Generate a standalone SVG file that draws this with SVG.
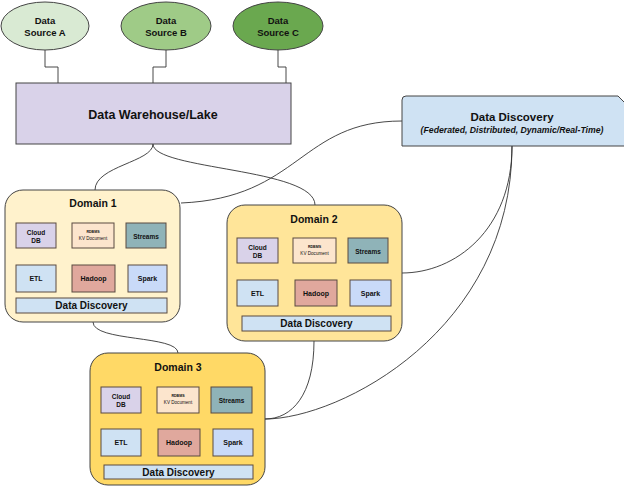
<svg xmlns="http://www.w3.org/2000/svg" width="624" height="486" viewBox="0 0 624 486">
<style>
text{font-family:"Liberation Sans",Arial,sans-serif;font-weight:bold;fill:#111;text-anchor:middle;dominant-baseline:central}
.edge{fill:none;stroke:#333;stroke-width:0.9}
.node{stroke:#444;stroke-width:1}
.dom{stroke:#444;stroke-width:1}
.ib{stroke:#5a4a40;stroke-width:1}
.cdb{fill:#d9d2e9}.rdb{fill:#fce5cd}.str{fill:#8fb3b8}.etl{fill:#cfe2f3}.had{fill:#e0a89d}.spk{fill:#c9daf8}.ddb{fill:#cfe2f3}
.t7{font-size:7px}.t6{font-size:6.5px}.tdd{font-size:10px}.tdom{font-size:10.5px}
.trd{font-size:3.6px}.tkv{font-size:4.6px;font-weight:normal}
</style>
<rect width="624" height="486" fill="#fff"/>
<g id="connectors">
<path class="edge" d="M45,50 V67 H58 V83"/>
<path class="edge" d="M166,50 V67 H153 V83"/>
<path class="edge" d="M278,50 V67 H286 V83"/>
<path class="edge" d="M153,144 C153,162 95,166 95,190"/>
<path class="edge" d="M153,144 C153,170 315,168 315,205"/>
<path class="edge" d="M181,203 C300,198 300,121 402,121"/>
<path class="edge" d="M512,146 C512,230 455,273 402,273"/>
<path class="edge" d="M512,146 C512,330 340,419 265,419"/>
<path class="edge" d="M314,341 C314,395 292,419 265,419"/>
<path class="edge" d="M93,322 C93,342 178,335 178,353"/>
</g>
<g id="source-a">
<ellipse class="node" cx="45" cy="26" rx="44" ry="24" fill="#d9ead3"/>
<text x="45" y="20" font-size="9.5">Data</text>
<text x="45" y="32" font-size="9.5">Source A</text>
</g>
<g id="source-b">
<ellipse class="node" cx="166" cy="26" rx="45" ry="24" fill="#9fcb87"/>
<text x="166" y="20" font-size="9.5">Data</text>
<text x="166" y="32" font-size="9.5">Source B</text>
</g>
<g id="source-c">
<ellipse class="node" cx="278" cy="26" rx="45" ry="24" fill="#6aa84f"/>
<text x="278" y="20" font-size="9.5">Data</text>
<text x="278" y="32" font-size="9.5">Source C</text>
</g>
<g id="warehouse">
<rect class="node" x="16" y="83" width="275" height="61" fill="#d9d2e9"/>
<text x="153" y="115" font-size="12.5">Data Warehouse/Lake</text>
</g>
<g id="data-discovery">
<path class="node" d="M402,100 Q402,96 406,96 H618 L630,108 V146 H402 Z" fill="#cfe2f3"/>
<text x="512" y="116.5" font-size="11.5">Data Discovery</text>
<text x="512" y="129.5" font-size="8.7" font-style="italic">(Federated, Distributed, Dynamic/Real-Time)</text>
</g>
<g id="domain-1">
<rect class="dom" x="5" y="190" width="175" height="132" rx="18" fill="#fff2cc"/>
<text class="tdom" x="93" y="203">Domain 1</text>
<rect class="ib cdb" x="16" y="223" width="40" height="25"/>
<text class="t6" x="36" y="232">Cloud</text><text class="t6" x="36" y="240">DB</text>
<rect class="ib rdb" x="72" y="223" width="42" height="25"/>
<text class="trd" x="93" y="232">RDBMS</text><text class="tkv" x="93" y="238">KV Document</text>
<rect class="ib str" x="126" y="223" width="40" height="25"/>
<text class="t6" x="146" y="236">Streams</text>
<rect class="ib etl" x="16" y="265" width="40" height="27"/>
<text class="t7" x="36" y="278.5">ETL</text>
<rect class="ib had" x="72" y="265" width="43" height="27"/>
<text class="t7" x="93.5" y="278.5">Hadoop</text>
<rect class="ib spk" x="128" y="265" width="39" height="27"/>
<text class="t7" x="147.5" y="278.5">Spark</text>
<rect class="ib ddb" x="16" y="298" width="151" height="15"/>
<text class="tdd" x="91.5" y="305.5">Data Discovery</text>
</g>
<g id="domain-2">
<rect class="dom" x="227" y="205" width="175" height="136" rx="18" fill="#ffe599"/>
<text class="tdom" x="314" y="219">Domain 2</text>
<rect class="ib cdb" x="237" y="238" width="41" height="25"/>
<text class="t6" x="257.5" y="247">Cloud</text><text class="t6" x="257.5" y="255">DB</text>
<rect class="ib rdb" x="293" y="238" width="43" height="25"/>
<text class="trd" x="314.5" y="247">RDBMS</text><text class="tkv" x="314.5" y="253">KV Document</text>
<rect class="ib str" x="348" y="238" width="40" height="25"/>
<text class="t6" x="368" y="251">Streams</text>
<rect class="ib etl" x="237" y="280" width="41" height="26"/>
<text class="t7" x="257.5" y="293">ETL</text>
<rect class="ib had" x="295" y="280" width="42" height="26"/>
<text class="t7" x="316" y="293">Hadoop</text>
<rect class="ib spk" x="350" y="280" width="41" height="26"/>
<text class="t7" x="370.5" y="293">Spark</text>
<rect class="ib ddb" x="242" y="316" width="149" height="15"/>
<text class="tdd" x="316.5" y="323.5">Data Discovery</text>
</g>
<g id="domain-3">
<rect class="dom" x="90" y="353" width="175" height="132" rx="18" fill="#ffd966"/>
<text class="tdom" x="178" y="367">Domain 3</text>
<rect class="ib cdb" x="101" y="387" width="40" height="26"/>
<text class="t6" x="121" y="396">Cloud</text><text class="t6" x="121" y="404">DB</text>
<rect class="ib rdb" x="157" y="387" width="42" height="26"/>
<text class="trd" x="178" y="396">RDBMS</text><text class="tkv" x="178" y="402">KV Document</text>
<rect class="ib str" x="211" y="387" width="41" height="26"/>
<text class="t6" x="231.5" y="400">Streams</text>
<rect class="ib etl" x="101" y="429" width="40" height="27"/>
<text class="t7" x="121" y="442.5">ETL</text>
<rect class="ib had" x="158" y="429" width="42" height="27"/>
<text class="t7" x="179" y="442.5">Hadoop</text>
<rect class="ib spk" x="213" y="429" width="40" height="27"/>
<text class="t7" x="233" y="442.5">Spark</text>
<rect class="ib ddb" x="104" y="465" width="149" height="14"/>
<text class="tdd" x="178.5" y="472">Data Discovery</text>
</g>
</svg>
